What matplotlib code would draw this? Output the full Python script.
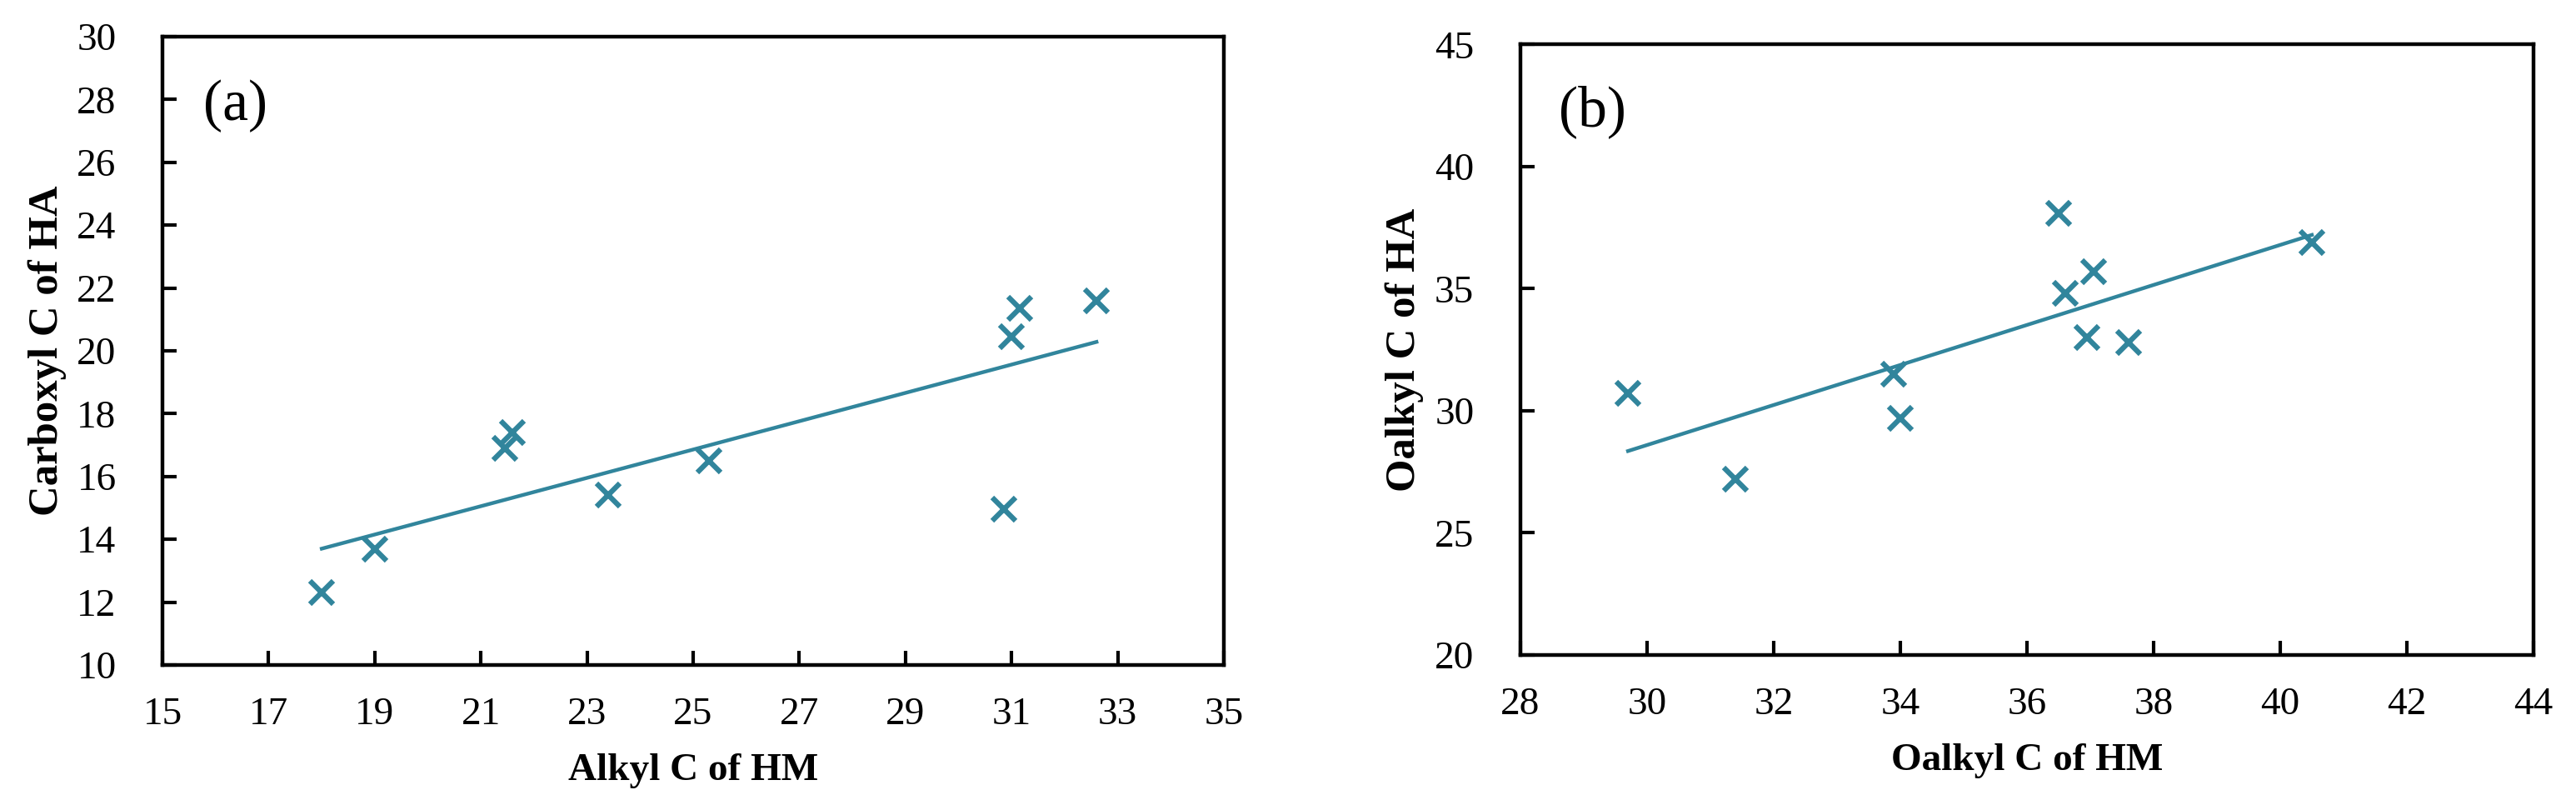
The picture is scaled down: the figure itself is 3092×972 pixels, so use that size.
import matplotlib
matplotlib.use("Agg")
import matplotlib.pyplot as plt
import numpy as np

plt.rcParams['font.family'] = ['Liberation Serif', 'DejaVu Serif']

# panel (a): Alkyl C of HM vs Carboxyl C of HA
alkyl_hm = [18.0, 19.0, 21.45, 21.6, 23.4, 25.3, 30.85, 31.0, 31.15, 32.6]
carboxyl_ha = [12.3, 13.7, 16.9, 17.4, 15.4, 16.5, 14.95, 20.45, 21.35, 21.6]

# panel (b): Oalkyl C of HM vs Oalkyl C of HA
oalkyl_hm = [29.7, 31.4, 33.9, 34.0, 36.5, 36.6, 37.05, 36.95, 37.6, 40.5]
oalkyl_ha = [30.7, 27.2, 31.5, 29.7, 38.1, 34.8, 35.7, 33.0, 32.8, 36.9]

color = "#31859C"

fig = plt.figure(figsize=(30.92, 9.72), dpi=100)
ax1 = fig.add_axes([0.0631, 0.179, 0.412, 0.7757])
ax2 = fig.add_axes([0.5902, 0.1914, 0.3933, 0.7536])


def draw(ax, x, y, xlim, ylim, xticks, yticks, xlabel, ylabel, tag):
    x = np.array(x)
    y = np.array(y)
    k, b = np.polyfit(x, y, 1)
    xs = np.array([x.min(), x.max()])
    ax.plot(xs, k * xs + b, color=color, lw=3.2, zorder=2)
    ax.plot(x, y, "x", color=color, ms=20, mew=4.5, zorder=3)
    ax.set_xlim(*xlim)
    ax.set_ylim(*ylim)
    ax.set_xticks(xticks)
    ax.set_yticks(yticks)
    ax.tick_params(direction="in", length=12, width=3, labelsize=34)
    ax.tick_params(axis="y", pad=40)
    ax.tick_params(axis="x", pad=28)
    for s in ax.spines.values():
        s.set_linewidth(3.2)
    ax.set_xlabel(xlabel, fontsize=34, fontweight="bold", labelpad=18)
    ax.set_ylabel(ylabel, fontsize=36.5, fontweight="bold", labelpad=9)
    ax.text(0.038, 0.89, tag, transform=ax.transAxes, fontsize=50,
            ha="left", va="center")


draw(ax1, alkyl_hm, carboxyl_ha, (15, 35), (10, 30),
     range(15, 36, 2), range(10, 31, 2),
     "Alkyl C of HM", "Carboxyl C of HA", "(a)")
draw(ax2, oalkyl_hm, oalkyl_ha, (28, 44), (20, 45),
     range(28, 45, 2), range(20, 46, 5),
     "Oalkyl C of HM", "Oalkyl C of HA", "(b)")

fig.savefig("out.png", dpi=100)
